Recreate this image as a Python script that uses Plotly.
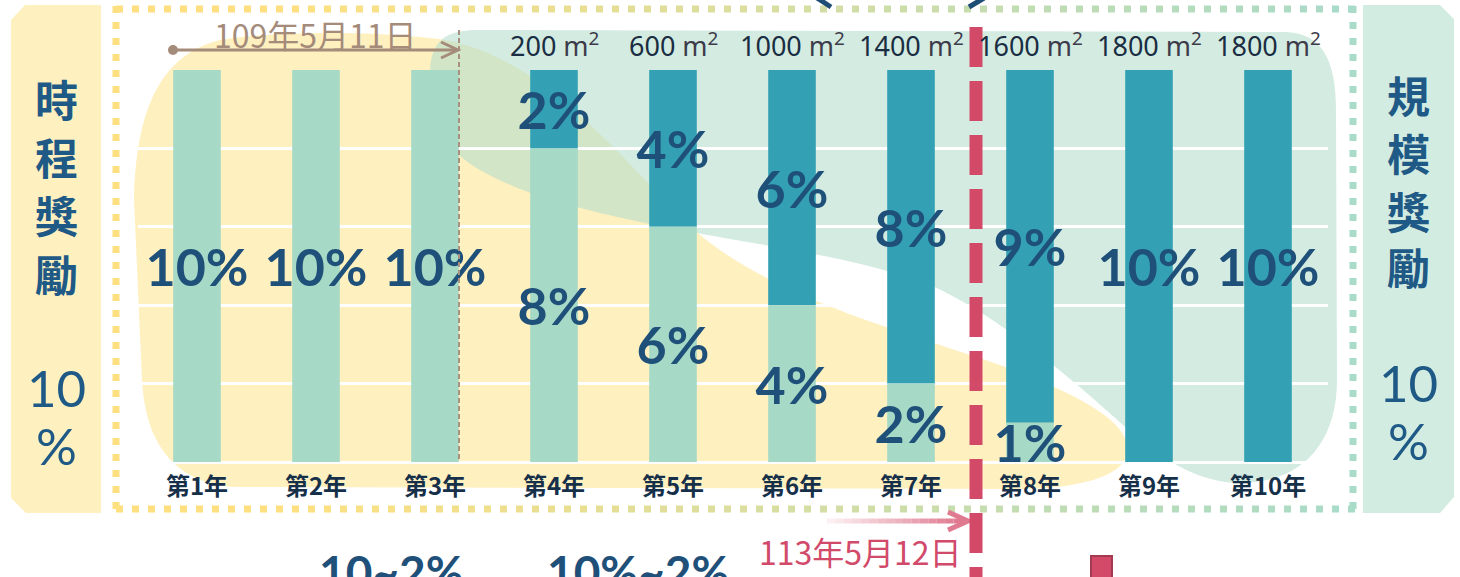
import plotly.graph_objects as go

# ---------------------------------------------------------------- data
years = ["第1年", "第2年", "第3年", "第4年", "第5年",
         "第6年", "第7年", "第8年", "第9年", "第10年"]
schedule_pct = [10, 10, 10, 8, 6, 4, 2, 1, 0, 0]     # 時程獎勵
scale_pct = [0, 0, 0, 2, 4, 6, 8, 9, 10, 10]         # 規模獎勵
floor_area = [None, None, None, 200, 600, 1000, 1400, 1600, 1800, 1800]  # m²
left_title = ["時", "程", "獎", "勵"]
right_title = ["規", "模", "獎", "勵"]
left_total = ["10", "%"]
right_total = ["10", "%"]
start_date = "109年5月11日"
end_date = "113年5月12日"
bottom_ranges = ["10~2%", "10%~2%"]

# ---------------------------------------------------------------- style
W, H = 1460, 577
NAVY = "#1F5079"
NAVY_SIDE = "#1F5A86"
LIGHT_BAR = "#A6D9C6"
DARK_BAR = "#33A1B3"
YELLOW_BG = "#FFF0C0"
MINT_BG = "#D3ECE1"
DOT_YELLOW = (255, 224, 128)
DOT_MINT = (168, 219, 200)
BROWN = "#A58B7A"
RED = "#D24A68"
PINK = (224, 122, 144)

N_ARGS = {"M": 2, "L": 2, "C": 6}


def fx(x):
    return x / W


def fy(y):
    return 1 - y / H


def path(*segs, close=True):
    """Build an SVG path in paper units from pixel coordinates."""
    parts = []
    for cmd, *pts in segs:
        n = N_ARGS[cmd]
        for k in range(0, len(pts), n):
            grp = pts[k:k + n]
            xy = [f"{fx(grp[i]):.5f},{fy(grp[i + 1]):.5f}" for i in range(0, n, 2)]
            parts.append(cmd + " " + " ".join(xy))
    return " ".join(parts) + (" Z" if close else "")


shapes = []


def add_line(x0, y0, x1, y1, color, width, dash="solid", layer="above"):
    shapes.append(dict(type="line", xref="paper", yref="paper",
                       x0=fx(x0), y0=fy(y0), x1=fx(x1), y1=fy(y1),
                       line=dict(color=color, width=width, dash=dash), layer=layer))


def add_fill(p, color, layer="below"):
    shapes.append(dict(type="path", xref="paper", yref="paper", path=p,
                       fillcolor=color, line=dict(width=0), layer=layer))


def mix(c0, c1, t):
    t = min(max(t, 0.0), 1.0)
    return "rgb(%d,%d,%d)" % tuple(round(a + (b - a) * t) for a, b in zip(c0, c1))


# side panels with clipped corners
add_fill(path(("M", 11, 20), ("L", 25, 5, 101, 5, 101, 513, 26, 513, 11, 498)), YELLOW_BG)
add_fill(path(("M", 1363, 5), ("L", 1440, 5, 1454, 19, 1454, 497, 1440, 513, 1363, 513)), MINT_BG)

# soft yellow area behind the schedule bonus
add_fill(path(("M", 240, 487),
              ("C", 185, 486, 146, 455, 142, 380),
              ("L", 134, 200),
              ("C", 136, 110, 160, 55, 220, 40),
              ("C", 280, 30, 380, 32, 430, 38),
              ("C", 540, 48, 620, 160, 700, 235),
              ("C", 780, 300, 900, 330, 1000, 365),
              ("C", 1080, 395, 1125, 420, 1128, 448),
              ("C", 1130, 475, 1080, 489, 1020, 489)), YELLOW_BG)

# translucent mint area behind the scale bonus
add_fill(path(("M", 430, 85),
              ("C", 428, 45, 440, 31, 475, 30),
              ("L", 1285, 32),
              ("C", 1322, 33, 1336, 60, 1336, 110),
              ("L", 1337, 380),
              ("C", 1337, 445, 1300, 483, 1240, 483),
              ("C", 1200, 483, 1165, 460, 1140, 440),
              ("C", 1100, 405, 1010, 320, 930, 285),
              ("C", 860, 258, 760, 245, 697, 233),
              ("C", 600, 215, 480, 190, 445, 140),
              ("C", 435, 120, 431, 100, 430, 85)), "rgba(179,221,203,0.58)")

# dotted frame, fading from yellow (left) to mint (right)
FL, FR, FT, FB = 116, 1353, 9, 509
SEG = 32
for yy in (FT, FB):
    x = FL
    while x < FR:
        x_end = min(x + SEG, FR + 4)
        t = ((x + x_end) / 2 - 300) / (1350 - 300)
        add_line(x, yy, x_end, yy, mix(DOT_YELLOW, DOT_MINT, t), 7, "7px,9px")
        x += SEG
add_line(FL, FT - 3, FL, FB + 4, mix(DOT_YELLOW, DOT_MINT, 0), 7, "7px,9px")
add_line(FR, FT - 3, FR, FB + 4, mix(DOT_YELLOW, DOT_MINT, 1), 7, "7px,9px")

# start-date marker
add_line(459, 30, 459, 462, "#A8917F", 2, "5px,3px")
add_line(173, 50, 457, 50, BROWN, 3)
shapes.append(dict(type="path", xref="paper", yref="paper",
                   path=path(("M", 441, 42), ("L", 458, 50, 441, 58), close=False),
                   line=dict(color=BROWN, width=3), layer="above"))
shapes.append(dict(type="circle", xref="paper", yref="paper",
                   x0=fx(168), x1=fx(178), y0=fy(55), y1=fy(45),
                   fillcolor=BROWN, line=dict(width=0), layer="above"))

# end-date marker: fading pink arrow and red dashed divider
n_fade = 16
x_start, x_stop = 827, 962
step = (x_stop - x_start) / n_fade
for i in range(n_fade):
    a = 0.05 + 0.95 * (i + 1) / n_fade
    add_line(x_start + i * step, 521, x_start + (i + 1) * step, 521,
             "rgba(%d,%d,%d,%.2f)" % (*PINK, a), 5)
shapes.append(dict(type="path", xref="paper", yref="paper",
                   path=path(("M", 948, 512), ("L", 968, 521, 948, 530), close=False),
                   line=dict(color="rgb(224,122,144)", width=5), layer="above"))
add_line(976, 27, 976, 640, RED, 13, "40px,14px")

# pieces of neighbouring graphics at the edges
shapes.append(dict(type="rect", xref="paper", yref="paper",
                   x0=fx(1091), x1=fx(1112), y0=fy(590), y1=fy(556),
                   fillcolor=RED, line=dict(color="#A33A52", width=2), layer="above"))
add_line(817, -2, 831, 7, "#1E4D75", 5)
add_line(969, 7, 984, -2, "#1E4D75", 5)


def pct_text(vals):
    return [f"{v}%" if v else "" for v in vals]


bar_font = dict(family="Lato", size=52, color=NAVY, weight="bold")

fig = go.Figure()
fig.add_trace(go.Bar(
    x=years, y=scale_pct, base=schedule_pct, width=0.4,
    marker=dict(color=DARK_BAR, line=dict(width=0)),
    text=pct_text(scale_pct), textposition="inside", insidetextanchor="middle",
    textangle=0, constraintext="none", insidetextfont=bar_font,
    hoverinfo="skip", name="規模獎勵"))
fig.add_trace(go.Bar(
    x=years, y=schedule_pct, width=0.4,
    marker=dict(color=LIGHT_BAR, line=dict(width=0)),
    text=pct_text(schedule_pct), textposition="inside", insidetextanchor="middle",
    textangle=0, constraintext="none", insidetextfont=bar_font,
    hoverinfo="skip", name="時程獎勵"))

annotations = []
for yr, area in zip(years, floor_area):
    if area:
        annotations.append(dict(
            x=yr, xref="x", y=fy(44), yref="paper", showarrow=False,
            xanchor="center", yanchor="middle",
            text=f"{area} <span style='color:#3d3b4a'>m<sup>2</sup></span>",
            font=dict(family="Noto Sans", size=27, color="#1A2D42")))


def note(cx, cy, text, font, yanchor="middle"):
    annotations.append(dict(x=fx(cx), y=fy(cy), xref="paper", yref="paper",
                            text=text, showarrow=False, xanchor="center",
                            yanchor=yanchor, font=font))


cjk_side = dict(family="Noto Sans CJK TC", size=43, color=NAVY_SIDE, weight="bold")
num_side = dict(family="Lato", size=51, color=NAVY_SIDE)
for yy, ch in zip([98, 156, 214, 273], left_title):
    note(56, yy, ch, cjk_side)
for yy, ch in zip([387, 445], left_total):
    note(56, yy, ch, num_side)
for yy, ch in zip([94, 152, 210, 266], right_title):
    note(1408, yy, ch, cjk_side)
for yy, ch in zip([383, 440], right_total):
    note(1408, yy, ch, num_side)

note(315, 34, start_date, dict(family="Noto Sans CJK TC", size=32, color=BROWN))
note(860, 551, end_date, dict(family="Noto Sans CJK TC", size=32, color="#D24A6A"))
for cx, label in zip([391, 638], bottom_ranges):
    note(cx, 542, label, dict(family="Lato", size=46, color=NAVY, weight="bold"),
         yanchor="top")

fig.update_layout(
    width=W, height=H,
    margin=dict(l=0, r=0, t=0, b=0),
    paper_bgcolor="white", plot_bgcolor="rgba(0,0,0,0)",
    barmode="overlay", showlegend=False,
    shapes=shapes, annotations=annotations,
    xaxis=dict(domain=[fx(137.5), fx(1327.5)], type="category",
               categoryorder="array", categoryarray=years,
               range=[-0.5, 9.5], showgrid=False, zeroline=False, showline=False,
               ticks="", ticklabelstandoff=8,
               tickfont=dict(family="Noto Sans CJK TC", size=24, color="#17304A",
                             weight="bold")),
    yaxis=dict(domain=[fy(462), fy(70)], range=[0, 10], dtick=2,
               showgrid=True, gridcolor="white", gridwidth=2.5,
               zeroline=True, zerolinecolor="white", zerolinewidth=2.5,
               showticklabels=False, showline=False, ticks=""),
)

fig.write_html("out.html")
